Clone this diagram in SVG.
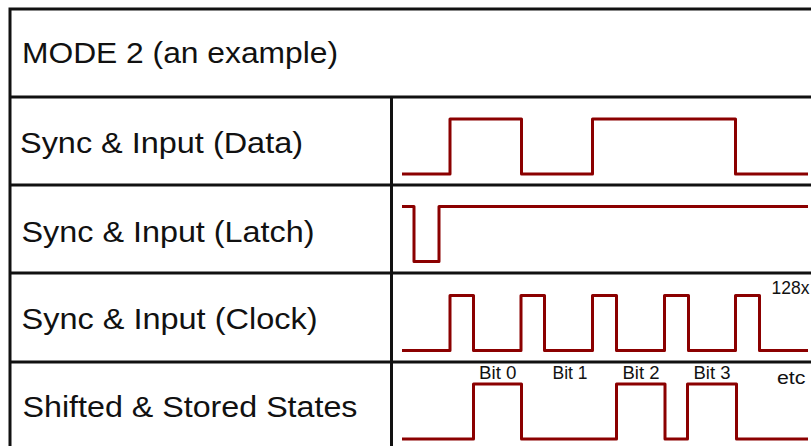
<svg xmlns="http://www.w3.org/2000/svg" width="811" height="446" viewBox="0 0 811 446">
<style>
.grid{stroke:#111;stroke-width:3;fill:none}
.wave{stroke:#8B0000;stroke-width:3;fill:none;stroke-linejoin:round;stroke-linecap:butt}
.lbl{font-family:"Liberation Sans",Arial,sans-serif;font-size:29px;fill:#111}
.sm{font-family:"Liberation Sans",Arial,sans-serif;font-size:17.5px;fill:#111}
</style>
<rect width="811" height="446" fill="#fff"/>
<g id="table">
<path class="grid" d="M10 446V9H811M10 97H811M10 185H811M10 273H811M10 362H811M391.5 97V446"/>
</g>
<g id="title"><text class="lbl" x="22" y="63" textLength="316" lengthAdjust="spacingAndGlyphs">MODE 2 (an example)</text></g>
<g id="row-data"><text class="lbl" x="20" y="153" textLength="283" lengthAdjust="spacingAndGlyphs">Sync &amp; Input (Data)</text></g>
<g id="row-latch"><text class="lbl" x="21.5" y="241.5" textLength="293" lengthAdjust="spacingAndGlyphs">Sync &amp; Input (Latch)</text></g>
<g id="row-clock"><text class="lbl" x="21.5" y="328.5" textLength="296" lengthAdjust="spacingAndGlyphs">Sync &amp; Input (Clock)</text></g>
<g id="row-states"><text class="lbl" x="22.5" y="416.5" textLength="335" lengthAdjust="spacingAndGlyphs">Shifted &amp; Stored States</text></g>
<g id="connectors">
<path id="wave-data" class="wave" d="M402 174H450V119H521.5V174H592.5V119H735.5V174H808"/>
<path id="wave-latch" class="wave" d="M402 206.5H414V261.5H439V206.5H808"/>
<path id="wave-clock" class="wave" d="M402 350.5H450V295.5H473.5V350.5H521V295.5H544.5V350.5H592.5V295.5H616.5V350.5H664.5V295.5H688.5V350.5H735.5V295.5H759.5V350.5H808"/>
<path id="wave-states" class="wave" d="M402 439H473.5V384H521.5V439H616.5V384H665V439H687.5V384H736.5V439H808"/>
</g>
<g id="annotations">
<text class="sm" x="771.5" y="294" font-size="17">128x</text>
<text class="sm" x="479" y="378.5" textLength="37.5" lengthAdjust="spacingAndGlyphs">Bit 0</text>
<text class="sm" x="552.5" y="378.5" textLength="35" lengthAdjust="spacingAndGlyphs">Bit 1</text>
<text class="sm" x="622.5" y="378.5" textLength="37" lengthAdjust="spacingAndGlyphs">Bit 2</text>
<text class="sm" x="693.5" y="378.5" textLength="37" lengthAdjust="spacingAndGlyphs">Bit 3</text>
<text class="sm" x="777" y="384" font-size="19" textLength="28.5" lengthAdjust="spacingAndGlyphs">etc</text>
</g>
</svg>
